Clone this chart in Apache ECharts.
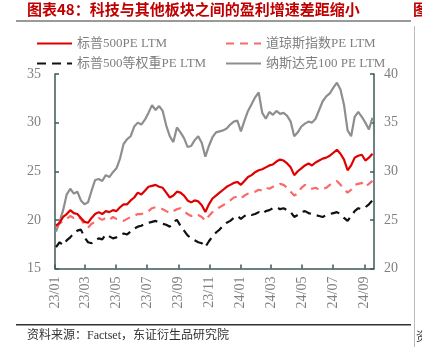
<!DOCTYPE html>
<html><head><meta charset="utf-8">
<script src="https://cdn.jsdelivr.net/npm/echarts@6/dist/echarts.min.js"></script>
<style>html,body{margin:0;padding:0;background:#fff}#c{width:422px;height:347px}</style>
</head><body><div id="c"></div>
<script>
const startDate = '2023-01-03';
const weeks = 90;
const tickLabels = ['23/01','23/03','23/05','23/07','23/09','23/11','24/01','24/03','24/05','24/07','24/09'];
const tickDates = ['2023-01-01','2023-03-01','2023-05-01','2023-07-01','2023-09-01','2023-11-01','2024-01-01','2024-03-01','2024-05-01','2024-07-01','2024-09-01'];
const leftTicks = [15, 20, 25, 30, 35];
const rightTicks = [20, 25, 30, 35, 40];
const seriesNames = ['标普500PE LTM','道琼斯指数PE LTM','标普500等权重PE LTM','纳斯达克100 PE LTM'];

const spx = [19.4,19.7,20.3,20.6,21.0,20.7,20.6,20.2,19.8,19.7,20.2,20.6,20.8,20.6,20.9,20.8,21.0,20.9,21.3,21.6,
21.6,22.0,22.3,22.8,22.6,23.0,23.4,23.5,23.6,23.4,23.3,22.8,22.3,22.5,22.9,22.8,22.5,22.0,21.8,22.0,
21.9,21.5,20.8,21.6,22.2,22.5,22.8,23.1,23.4,23.6,23.8,23.9,23.6,24.0,24.4,24.6,24.9,25.1,25.2,25.4,
25.6,25.7,26.0,26.2,26.1,25.8,25.4,24.6,25.0,25.3,25.6,25.8,25.6,25.9,26.1,26.3,26.4,26.6,26.9,27.2,
26.8,26.2,25.1,25.6,26.4,26.6,26.7,26.1,26.4,26.8];
const dow = [19.3,19.6,19.9,20.1,20.4,20.2,20.4,20.1,19.5,19.2,19.6,19.8,20.2,20.0,20.2,20.0,20.3,20.1,20.0,19.9,
20.1,20.3,20.4,20.6,20.6,20.7,20.9,21.2,21.3,21.2,21.1,20.9,20.7,20.9,21.1,21.2,20.9,20.6,20.4,20.6,
20.5,20.3,19.9,20.4,20.8,21.1,21.3,21.5,21.8,22.0,22.3,22.4,22.2,22.5,22.7,22.8,22.9,23.1,23.0,23.3,
23.2,23.4,23.5,23.7,23.6,23.3,22.9,22.5,22.7,23.3,23.6,23.4,23.2,23.3,23.1,23.2,23.3,23.6,23.8,24.0,
23.6,23.2,22.8,23.1,23.6,23.7,23.8,23.4,23.7,24.0];
const spxEw = [17.2,17.7,17.4,17.9,18.2,18.6,18.9,19.0,18.2,17.7,17.6,17.9,18.1,18.0,18.5,18.3,18.1,18.2,18.4,18.6,
18.5,18.8,19.1,19.3,19.4,19.6,19.7,19.8,19.9,19.7,19.6,19.5,19.3,19.8,20.0,19.4,18.9,18.4,18.1,17.9,
17.7,17.6,17.2,17.8,18.3,18.7,19.0,19.4,19.7,19.9,20.2,20.4,20.1,20.4,20.6,20.5,20.6,20.8,20.6,20.9,
21.0,21.2,21.3,21.1,21.2,21.0,20.8,20.3,20.5,20.8,20.9,20.7,20.6,20.5,20.4,20.3,20.5,20.6,20.7,20.8,
20.6,20.2,19.9,20.4,20.9,21.2,21.1,21.3,21.6,22.0];
const ndx = [23.8,24.8,26.0,27.6,28.2,27.7,27.9,27.0,26.6,26.8,28.0,29.1,29.2,29.0,29.6,29.4,29.9,30.3,31.3,32.8,
33.3,33.6,34.6,35.0,34.8,35.3,36.0,36.8,36.3,36.7,36.2,34.7,33.6,33.0,34.5,34.0,33.4,32.5,32.6,33.2,
33.6,32.9,31.5,32.6,33.5,34.0,34.1,34.2,34.4,34.8,35.1,35.2,34.1,35.2,36.2,36.9,37.6,38.1,36.0,35.4,
36.1,35.8,36.2,35.9,36.0,35.7,35.1,33.6,34.0,34.6,34.9,35.1,35.0,35.4,36.3,37.2,37.7,38.0,38.6,39.1,
38.4,36.8,34.2,33.6,35.6,36.1,35.6,35.0,34.3,35.5];

const DAY = 86400000;
const dates = [];
{ const d0 = Date.parse(startDate + 'T00:00:00Z'); for (let i = 0; i < weeks; i++) { dates.push(d0 + i * 7 * DAY); } }
const pair = arr => arr.map((v, i) => [dates[i], v]);
const tickTimes = tickDates.map(s => Date.parse(s + 'T00:00:00Z'));

const serif = '"Liberation Serif","Noto Sans CJK SC",serif';
const axisColor = '#3e5858';
const labelColor = '#7f7f7f';

const chart = echarts.init(document.getElementById('c'), null, {renderer: 'canvas'});
const legendBase = {itemWidth: 35, itemHeight: 12, itemGap: 6, itemStyle: {opacity: 0},
  textStyle: {fontFamily: serif, fontSize: 13, color: labelColor}};
chart.setOption({
  animation: false,
  backgroundColor: '#fff',
  grid: {left: 55, right: 48, top: 74, bottom: 78.5, containLabel: false},
  legend: [
    Object.assign({}, legendBase, {data: [seriesNames[0]], left: 31, top: 32}),
    Object.assign({}, legendBase, {data: [seriesNames[1]], left: 220, top: 32}),
    Object.assign({}, legendBase, {data: [seriesNames[2]], left: 31, top: 52}),
    Object.assign({}, legendBase, {data: [seriesNames[3]], left: 220, top: 52})
  ],
  xAxis: {
    type: 'value',
    min: Date.parse('2023-01-01T00:00:00Z'),
    max: Date.parse('2024-09-20T00:00:00Z'),
    axisLine: {lineStyle: {color: axisColor, width: 1.5}},
    axisTick: {inside: true, length: 4, customValues: tickTimes, lineStyle: {color: axisColor, width: 1.5}},
    axisLabel: {
      customValues: tickTimes,
      rotate: 90, margin: 8, color: labelColor, fontFamily: serif, fontSize: 14,
      formatter: v => { const i = tickTimes.indexOf(v); return i >= 0 ? tickLabels[i] : ''; }
    },
    splitLine: {show: false}
  },
  yAxis: [
    {type: 'value', min: leftTicks[0], max: leftTicks[leftTicks.length-1], interval: 5, position: 'left',
     axisLine: {show: true, lineStyle: {color: axisColor, width: 1.5}},
     axisTick: {show: true, inside: true, length: 4, lineStyle: {color: axisColor, width: 1.5}},
     axisLabel: {color: labelColor, fontFamily: serif, fontSize: 14, margin: 14},
     splitLine: {show: false}},
    {type: 'value', min: rightTicks[0], max: rightTicks[rightTicks.length-1], interval: 5, position: 'right',
     axisLine: {show: true, lineStyle: {color: axisColor, width: 1.5}},
     axisTick: {show: true, inside: true, length: 4, lineStyle: {color: axisColor, width: 1.5}},
     axisLabel: {color: labelColor, fontFamily: serif, fontSize: 14, margin: 10},
     splitLine: {show: false}}
  ],
  series: [
    {name: seriesNames[3], type: 'line', yAxisIndex: 1, data: pair(ndx), symbol: 'none', lineStyle: {color: '#8e8e8e', width: 2.2}, itemStyle: {color: '#8e8e8e'}, z: 1},
    {name: seriesNames[2], type: 'line', yAxisIndex: 0, data: pair(spxEw), symbol: 'none', lineStyle: {color: '#111', width: 2.2, type: [9, 6]}, itemStyle: {color: '#111'}, z: 2},
    {name: seriesNames[1], type: 'line', yAxisIndex: 0, data: pair(dow), symbol: 'none', lineStyle: {color: '#fb6a6a', width: 2.2, type: [8, 6]}, itemStyle: {color: '#fb6a6a'}, z: 3},
    {name: seriesNames[0], type: 'line', yAxisIndex: 0, data: pair(spx), symbol: 'none', lineStyle: {color: '#e00000', width: 2.2}, itemStyle: {color: '#e00000'}, z: 4}
  ],
  graphic: [
    {type: 'text', left: 27, top: 2, style: {text: '图表48：科技与其他板块之间的盈利增速差距缩小', font: 'bold 15px "Noto Sans CJK SC"', fill: '#c00000'}},
    {type: 'text', left: 413, top: 2, style: {text: '图', font: 'bold 15px "Noto Sans CJK SC"', fill: '#c00000'}},
    {type: 'rect', shape: {x: 16, y: 20, width: 395, height: 2}, style: {fill: '#9a9a9a'}},
    {type: 'rect', shape: {x: 414, y: 26, width: 1, height: 321}, style: {fill: '#bbbbbb'}},
    {type: 'rect', shape: {x: 16, y: 324, width: 395, height: 1.5}, style: {fill: '#333'}},
    {type: 'text', left: 27, top: 330, style: {text: '资料来源：Factset，东证衍生品研究院', font: '12px "Liberation Serif","Noto Sans CJK SC"', fill: '#333'}},
    {type: 'text', left: 416, top: 330, style: {text: '资', font: '12px "Noto Sans CJK SC"', fill: '#333'}}
  ]
});
</script></body></html>
